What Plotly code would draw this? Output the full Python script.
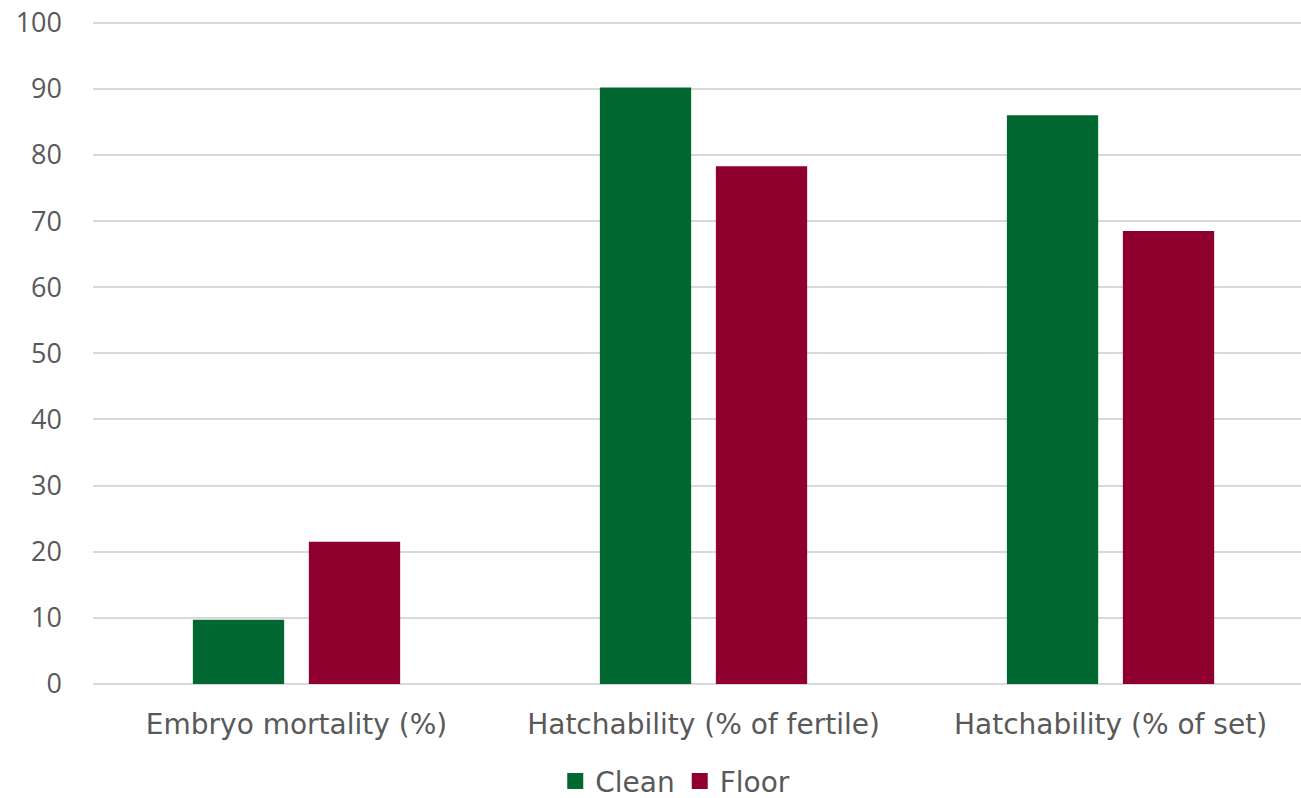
import plotly.graph_objects as go

categories = ["Embryo mortality (%)", "Hatchability (% of fertile)", "Hatchability (% of set)"]
series_names = ["Clean", "Floor"]
clean = [9.7, 90.2, 86.0]
floor = [21.5, 78.3, 68.5]
y_ticks = [0, 10, 20, 30, 40, 50, 60, 70, 80, 90, 100]
colors = ["#006830", "#8f002e"]

LBL_FONT = "DejaVu Sans"
TICK_FONT = "Open Sans"
TXT = "#595959"

fig = go.Figure()
for name, vals, col in zip(series_names, [clean, floor], colors):
    fig.add_trace(go.Bar(name=name, x=categories, y=vals, showlegend=False,
                         marker=dict(color=col, line=dict(width=0))))
# legend entries with larger square swatches
for name, col in zip(series_names, colors):
    fig.add_trace(go.Scatter(name=name, x=[None], y=[None], mode="markers",
                             marker=dict(symbol="square", size=16, color=col)))

fig.update_layout(
    width=1301, height=798,
    margin=dict(l=93, r=0, t=19.7, b=113.5, autoexpand=False),
    plot_bgcolor="white", paper_bgcolor="white",
    barmode="group", bargap=0.43, bargroupgap=0.213,
    font=dict(family=LBL_FONT, size=28, color=TXT),
    showlegend=True,
    legend=dict(orientation="h", x=0.482, xanchor="center", yref="container", y=0.021, yanchor="middle",
                font=dict(family=LBL_FONT, size=28, color=TXT), itemwidth=30,
                itemsizing="trace"),
)
fig.update_xaxes(range=[-0.5, 2.468], showgrid=False, showline=False, ticks="",
                 ticklabelstandoff=21,
                 tickfont=dict(family=LBL_FONT, size=28, color=TXT))
fig.update_yaxes(range=[0, 100.4], tickvals=y_ticks, showgrid=True, gridcolor="#d9d9d9", gridwidth=1.5,
                 zeroline=True, zerolinecolor="#d9d9d9", zerolinewidth=1.5, ticks="",
                 ticklabelstandoff=30, tickfont=dict(family=TICK_FONT, size=27, color=TXT))

fig.write_html("out.html", config={"displayModeBar": False},
               post_script="document.body.style.margin='0';")
